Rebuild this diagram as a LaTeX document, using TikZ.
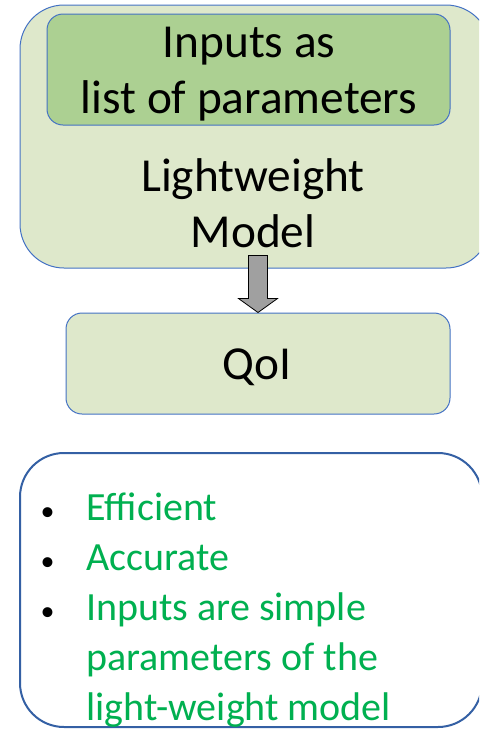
\documentclass[tikz,border=0pt]{standalone}
\usepackage{fontspec}
\setmainfont{Carlito}

\definecolor{boxfill}{RGB}{222,232,203}
\definecolor{inputfill}{RGB}{172,208,146}
\definecolor{boxline}{RGB}{68,114,196}
\definecolor{listline}{RGB}{52,96,164}
\definecolor{listtext}{RGB}{0,176,80}
\definecolor{arrowfill}{RGB}{160,160,160}

\newcommand{\bul}{\makebox[34.5pt][l]{\color{black}\fontsize{21}{21}\selectfont\textbullet}}
\newcommand{\nobul}{\hspace*{34.5pt}}

\tikzset{every picture/.style={line width=0.75pt}}
\tikzset{
  modelbox/.style={draw=boxline, fill=boxfill, inner sep=0pt},
  bigtext/.style={font=\fontsize{35.5}{42}\selectfont, align=center, anchor=base, inner sep=0pt},
}

\begin{document}
\begin{tikzpicture}[x=0.75pt,y=0.75pt,yscale=-1,xscale=1]
	\clip (0,0) rectangle (479,729);

	%Shape: Rounded Rect [model]
	\node [modelbox, rounded corners=33pt, minimum width=352.5pt, minimum height=197.25pt] (model) at (255,136.5) {};
	%Shape: Rounded Rect [inputs]
	\node [modelbox, fill=inputfill, rounded corners=12pt, minimum width=302.25pt, minimum height=83.25pt] (inputs) at (248.5,69.5) {};
	%Shape: Rounded Rect [qoi]
	\node [modelbox, rounded corners=12pt, minimum width=288pt, minimum height=75.75pt] (qoi) at (258,363.5) {};
	%Shape: Rounded Rect [props]
	\node [draw=listline, line width=1.5pt, fill=white, rounded corners=33pt, minimum width=346.5pt, minimum height=205.5pt, inner sep=0pt] (props) at (251,590) {};

	%Shape: Down Arrow
	\coordinate (tip) at (qoi.north);
	\draw [fill=arrowfill, line width=0.6pt] (tip) -- ++(-19.5,-14) -- ++(10,0) -- ++(0,-43) -- ++(19,0) -- ++(0,43) -- ++(10,0) -- cycle ;

	% Text Node
	\node [bigtext] (inputstext) at (249,113) {Inputs as\\list of parameters};
	% Text Node
	\node [bigtext] (modeltext) at (253,247) {Lightweight\\Model};
	% Text Node
	\node [bigtext] (qoitext) at (257,379) {QoI};
	% Text Node
	\node [font=\fontsize{30}{37.5}\selectfont, text=listtext, align=left, anchor=base west, inner sep=0pt] (proslist) at (40,720) {\bul Efficient\\\bul Accurate\\\bul Inputs are simple\\\nobul parameters of the\\\nobul light-weight model};

\end{tikzpicture}
\end{document}
